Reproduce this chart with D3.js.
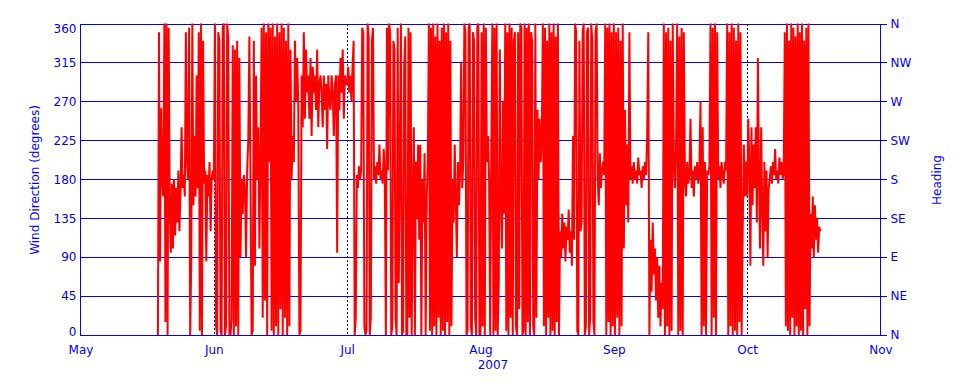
<!DOCTYPE html>
<html>
<head>
<meta charset="utf-8">
<script src="https://cdn.jsdelivr.net/npm/d3@7/dist/d3.min.js"></script>
<style>
  html, body { margin: 0; padding: 0; background: #fff; }
  svg { display: block; }
  text { font-family: "DejaVu Sans", sans-serif; font-size: 12px; fill: #0000ff; }
</style>
</head>
<body>
<svg id="chart" width="960" height="384"></svg>
<script>
// ---- data ----
const monthTicks = ["2007-05-01","2007-06-01","2007-07-01","2007-08-01","2007-09-01","2007-10-01","2007-11-01"];
const monthLabels = ["May","Jun","Jul","Aug","Sep","Oct","Nov"];
const yearLabel = "2007";
const degTicks = [0,45,90,135,180,225,270,315,360];
const headingLabels = ["N","NE","E","SE","S","SW","W","NW","N"];
const markerDates = ["2007-06-01","2007-07-01","2007-10-01"];
const seriesStart = "2007-05-19T00:00:00";
const stepHours = 6;
// wind direction (degrees), one reading every 6 h from 19 May 2007
const windMay = [
  0,350,85,262,180,160,360,15,360,0,
  355,150,95,175,100,180,115,170,130,190,
  120,165,240,170,185,160,350,200,180,355,
  0,85,360,150,230,160,300,170,350,5,
  360,0,340,175,190,85,185,160,200,120,
  180,190
];
const windJun = [
  180,360,10,0,350,340,5,0,355,360,0,10,360,345,0,0,
  20,
  335,0,330,10,340,0,320,90,
  180,140,185,170,90,190,
  225,345,180,
  0,5,
  340,80,300,180,
  240,100,210,
  355,20,360,40,350,0,360,200,355,5,360,0,345,10,360,0,350,30,360,0,355,20,340,0,360,10,330,
  180,230,200,
  340,270,320,265,
  0,5,
  300,240,350,250,330,280,
  300,250,320,230,310,280,300,260,330,240,290,300,
  280,240,300,260,290,215,300,270,260,300,280,230,290,300,
  95,
  300,260,320,280,330,250,300,290
];
const windJul = [
  290,310,280,300,270,310,
  340,0,20,
  185,170,195,180,190,
  355,350,10,0,5,360,345,0,20,340,355,
  180,195,175,200,185,220,180,190,175,215,185,
  0,355,190,
  360,350,0,10,340,330,20,0,355,60,200,360,0,5,310,345,0,
  0,355,20,350,0,
  150,240,0,200,135,220,
  110,220,0,180,130,210,0,160,200,
  360,5,355,0,360,10,345,0,360,20,340,0,355,5,360,0,350,15,360,0,340,10,
  180,130,220,160,90,200,150,190,315,170,200,
  360,350,0,5,355,360,10,0,350,340,20,0,355,360,0
];
const windAug = [
  0,350,10,360,0,355,
  200,230,180,0,210,
  360,0,355,5,360,0,
  60,330,150,100,270,140,
  360,5,350,0,360,20,355,0,340,350,10,0,350,30,360,355,0,5,360,0,355,15,360,0,350,340,10,0,360,20,
  260,180,250,200,230,
  360,10,355,0,340,20,360,0,350,5,360,0,345,15,360,0,
  120,90,140,100,130,85,125,110,145,95,120,80,230,110,
  360,350,5,0,340,120,130,350,360,0,10,350,355,0,20,360,340,15,0,350,360,
  180,150,210,170,190,200,185,
  360,0,355,15,360,0,350,10
];
const windSep = [
  360,0,350,20,355,0,340,10,360,
  100,260,150,220,130,
  350,180,
  195,175,200,180,190,175,205,185,190,170,195,180,200,185,
  230,350,0,
  110,50,130,70,100,40,90,20,80,10,60,30,
  360,0,350,10,355,0,340,5,360,
  200,170,220,
  360,0,345,5,355,0,350,
  180,160,200,175,185,250,170,190,160,195,180,200,175,190,
  270,0,240,10,200,0,
  190,185,195,
  360,0,355,20,360,0,350,
  180,195,170,200,185,175,200,190,
  360,0,350,10,360,0,355,5,340,0,360,15,350,0,
  120,220,160,200
];
const windOct = [
  160,250,200,80,240,150,220,170,240,130,
  320,180,100,240,150,
  80,200,120,190,90,170,
  180,195,175,200,185,215,180,190,175,205,185,200,180,190,
  350,10,360,5,340,0,360,20,355,0,345,10,360,0,350,5,360,0,340,30,355,0,360,10,
  140,100,160,90,150,110,135,95,125,120
];
const windDir = [].concat(windMay, windJun, windJul, windAug, windSep, windOct);

// ---- layout ----
const svg = d3.select("#chart");
const plotL = 80.5, plotR = 880.5, plotT = 23.5, plotB = 335;
const parse = d3.isoParse;

const x = d3.scaleTime()
  .domain(monthTicks.map(parse))
  .range(monthTicks.map((d, i) => plotL + i * (plotR - plotL) / (monthTicks.length - 1)));
const y = d3.scaleLinear().domain([0, 360]).range([plotB, plotT]);

const t0 = parse(seriesStart).getTime();
const points = windDir.map((v, i) => ({ t: new Date(t0 + i * stepHours * 3600e3), v }));

// gridlines
svg.append("g").selectAll("line").data(degTicks).join("line")
  .attr("x1", plotL).attr("x2", plotR)
  .attr("y1", d => Math.round(y(d)) + 0.5).attr("y2", d => Math.round(y(d)) + 0.5)
  .attr("stroke", "#0000ff").attr("stroke-width", 1).attr("shape-rendering", "crispEdges");

// dotted month markers
svg.append("g").selectAll("line").data(markerDates).join("line")
  .attr("x1", d => Math.round(x(parse(d))) + 0.5).attr("x2", d => Math.round(x(parse(d))) + 0.5)
  .attr("y1", plotT).attr("y2", plotB)
  .attr("stroke", "#0000ff").attr("stroke-width", 1).attr("stroke-dasharray", "2,2")
  .attr("shape-rendering", "crispEdges");

// data line
svg.append("path").datum(points)
  .attr("fill", "none").attr("stroke", "#ff0000").attr("stroke-width", 2)
  .attr("stroke-linejoin", "bevel")
  .attr("d", d3.line().x(d => x(d.t)).y(d => y(d.v)));

// axes frame
const frame = svg.append("g").attr("stroke", "#0000ff").attr("stroke-width", 1).attr("shape-rendering", "crispEdges");
frame.append("line").attr("x1", plotL).attr("x2", plotL).attr("y1", plotT).attr("y2", plotB + 0.5);
frame.append("line").attr("x1", plotR).attr("x2", plotR).attr("y1", plotT).attr("y2", plotB + 0.5);
frame.append("line").attr("x1", plotL).attr("x2", plotR).attr("y1", Math.round(plotB) + 0.5).attr("y2", Math.round(plotB) + 0.5);

// right axis ticks
const rightAxis = d3.axisRight(y).tickValues(degTicks).tickSize(6).tickPadding(4)
  .tickFormat((d, i) => headingLabels[i]);
const ra = svg.append("g").attr("transform", `translate(${plotR},0)`).call(rightAxis);
ra.select(".domain").remove();
ra.selectAll(".tick line").attr("stroke", "#0000ff").attr("shape-rendering", "crispEdges");
ra.selectAll(".tick text").attr("fill", "#0000ff").attr("font-family", "DejaVu Sans, sans-serif").attr("font-size", 12);

// left axis labels
const leftAxis = d3.axisLeft(y).tickValues(degTicks).tickSize(0).tickPadding(4).tickFormat(d3.format("d"));
const la = svg.append("g").attr("transform", `translate(${plotL},0)`).call(leftAxis);
la.select(".domain").remove();
la.selectAll(".tick text").attr("fill", "#0000ff").attr("font-family", "DejaVu Sans, sans-serif").attr("font-size", 12)
  .attr("dy", d => d === 360 ? "8.5" : (d === 0 ? "0" : "0.32em"));

// bottom axis labels
const bottomAxis = d3.axisBottom(x).tickValues(monthTicks.map(parse)).tickSize(0).tickPadding(10)
  .tickFormat((d, i) => monthLabels[i]);
const ba = svg.append("g").attr("transform", `translate(0,${plotB})`).call(bottomAxis);
ba.select(".domain").remove();
ba.selectAll(".tick text").attr("fill", "#0000ff").attr("font-family", "DejaVu Sans, sans-serif").attr("font-size", 12);

svg.append("text").attr("x", 493).attr("y", 369).attr("text-anchor", "middle").text(yearLabel);

// axis titles
svg.append("text").attr("transform", "translate(39,180) rotate(-90)").attr("text-anchor", "middle")
  .text("Wind Direction (degrees)");
svg.append("text").attr("transform", "translate(941,180) rotate(-90)").attr("text-anchor", "middle")
  .text("Heading");
</script>
</body>
</html>
